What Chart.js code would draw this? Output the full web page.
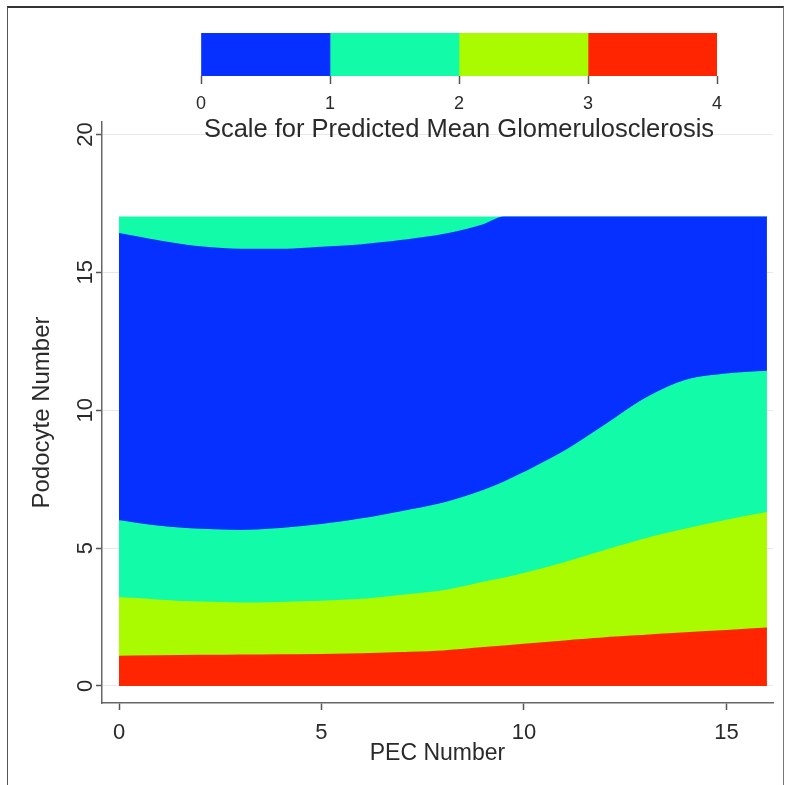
<!DOCTYPE html>
<html>
<head>
<meta charset="utf-8">
<script src="https://cdn.jsdelivr.net/npm/chart.js@4.4.1/dist/chart.umd.min.js"></script>
<style>
  body { margin: 0; background: #fff; }
  #wrap { position: relative; width: 794px; height: 785px; overflow: hidden; }
  #frame { position: absolute; left: 7px; top: 6px; width: 775px; height: 820px;
    border-top: 2px solid #333; border-left: 1px solid #555; border-right: 1px solid #777; }
  #main { position: absolute; left: 0; top: 0; }
  #scale { position: absolute; left: 170px; top: 20px; }
</style>
</head>
<body>
<div id="wrap">
  <div id="frame"></div>
  <canvas id="main" width="794" height="785"></canvas>
  <canvas id="scale" width="580" height="130"></canvas>
</div>
<script>
// PEC number grid (x) and level boundaries (podocyte number)
const pecX = [0, 1, 2, 3, 4, 5, 6, 7, 8, 9, 9.5, 10, 11, 12, 13, 14, 15, 16];
const level3Edge = [1.07, 1.08, 1.10, 1.11, 1.12, 1.13, 1.16, 1.20, 1.26, 1.38, 1.44, 1.50, 1.62, 1.74, 1.83, 1.92, 2.00, 2.09];
const level2Edge = [3.20, 3.10, 3.03, 3.00, 3.02, 3.06, 3.13, 3.28, 3.44, 3.75, 3.90, 4.07, 4.46, 4.90, 5.33, 5.68, 6.00, 6.28];
const level1Edge = [5.98, 5.78, 5.67, 5.63, 5.70, 5.84, 6.05, 6.32, 6.62, 7.08, 7.38, 7.73, 8.50, 9.45, 10.42, 11.08, 11.30, 11.40];
const level0Edge = [16.40, 16.13, 15.92, 15.83, 15.83, 15.90, 15.99, 16.15, 16.36, 16.72, 17, 17, 17, 17, 17, 17, 17, 17];
const gridTop = [17, 17, 17, 17, 17, 17, 17, 17, 17, 17, 17, 17, 17, 17, 17, 17, 17, 17];

const xTicks = [0, 5, 10, 15];
const yTicks = [0, 5, 10, 15, 20];

const scaleLevels = [0, 1, 2, 3, 4];
const scaleColors = ["#0530ff", "#12fba8", "#aafa00", "#ff2500"];

const FONT = "'Liberation Sans', Arial, sans-serif";
const TXT = "#2a2a2a";

function pts(ys) {
  return pecX.map((x, i) => ({ x: x, y: ys[i] }));
}

function band(label, ys, color, fill) {
  return {
    label: label,
    data: pts(ys),
    backgroundColor: color,
    borderColor: color,
    borderWidth: 1.5,
    pointRadius: 0,
    cubicInterpolationMode: "monotone",
    fill: fill,
  };
}

// draw y tick labels rotated like the original
const rotatedYLabels = {
  id: "rotatedYLabels",
  afterDraw(chart) {
    const ctx = chart.ctx;
    const y = chart.scales.y;
    ctx.save();
    ctx.fillStyle = TXT;
    ctx.font = "22px " + FONT;
    ctx.textAlign = "center";
    ctx.textBaseline = "middle";
    y.ticks.forEach((t) => {
      const py = y.getPixelForValue(t.value);
      ctx.save();
      ctx.translate(86, py);
      ctx.rotate(-Math.PI / 2);
      ctx.fillText(String(t.value), 0, 0);
      ctx.restore();
    });
    ctx.restore();
  },
};

new Chart(document.getElementById("main"), {
  type: "line",
  data: {
    datasets: [
      band("3-4", level3Edge, scaleColors[3], "origin"),
      band("2-3", level2Edge, scaleColors[2], "-1"),
      band("1-2", level1Edge, scaleColors[1], "-1"),
      band("0-1", level0Edge, scaleColors[0], "-1"),
      band("1-2 top", gridTop, scaleColors[1], "-1"),
    ],
  },
  options: {
    responsive: false,
    animation: false,
    layout: { padding: { left: 26, top: 122, right: 21, bottom: 18 } },
    plugins: { legend: { display: false }, tooltip: { enabled: false } },
    scales: {
      x: {
        type: "linear",
        min: -0.42,
        max: 16.15,
        afterBuildTicks: (s) => { s.ticks = xTicks.map((v) => ({ value: v })); },
        afterFit: (s) => { s.height = 64; },
        grid: { drawOnChartArea: false, tickLength: 7, tickWidth: 1.5, tickColor: "#555" },
        border: { color: "#666", width: 1.5 },
        ticks: { color: TXT, font: { family: FONT, size: 22 }, padding: 10, maxRotation: 0 },
        title: { display: true, text: "PEC Number", color: TXT, font: { family: FONT, size: 23 }, padding: { top: 0, bottom: 0 } },
      },
      y: {
        type: "linear",
        min: -0.62,
        max: 20.45,
        afterBuildTicks: (s) => { s.ticks = yTicks.map((v) => ({ value: v })); },
        afterFit: (s) => { s.width = 76; },
        grid: { color: "#e8e8e8", lineWidth: 1, tickLength: 6, tickWidth: 1.5, tickColor: "#555" },
        border: { color: "#666", width: 1.5 },
        ticks: { display: false },
        title: { display: true, text: "Podocyte Number", color: TXT, font: { family: FONT, size: 24 }, padding: { top: 2, bottom: 0 } },
      },
    },
  },
  plugins: [rotatedYLabels],
});

// colour key above the plot
new Chart(document.getElementById("scale"), {
  type: "bar",
  data: {
    labels: [""],
    datasets: scaleColors.map((c, i) => ({
      label: scaleLevels[i] + "-" + scaleLevels[i + 1],
      data: [scaleLevels[i + 1] - scaleLevels[i]],
      backgroundColor: c,
      barPercentage: 1,
      categoryPercentage: 1,
    })),
  },
  options: {
    indexAxis: "y",
    responsive: false,
    animation: false,
    layout: { padding: { left: 31, right: 33, top: 13, bottom: 0 } },
    plugins: { legend: { display: false }, tooltip: { enabled: false } },
    scales: {
      x: {
        stacked: true,
        min: 0,
        max: 4,
        afterBuildTicks: (s) => { s.ticks = scaleLevels.map((v) => ({ value: v })); },
        afterFit: (s) => { s.height = 74; },
        grid: { drawOnChartArea: false, tickLength: 8, tickWidth: 1.5, tickColor: "#555" },
        border: { display: false },
        ticks: { color: TXT, font: { family: FONT, size: 18 }, padding: 9, maxRotation: 0 },
        title: { display: true, text: "Scale for Predicted Mean Glomerulosclerosis", color: TXT, font: { family: FONT, size: 25.5 }, padding: { top: 0, bottom: 5 } },
      },
      y: { stacked: true, display: false },
    },
  },
});
</script>
</body>
</html>
